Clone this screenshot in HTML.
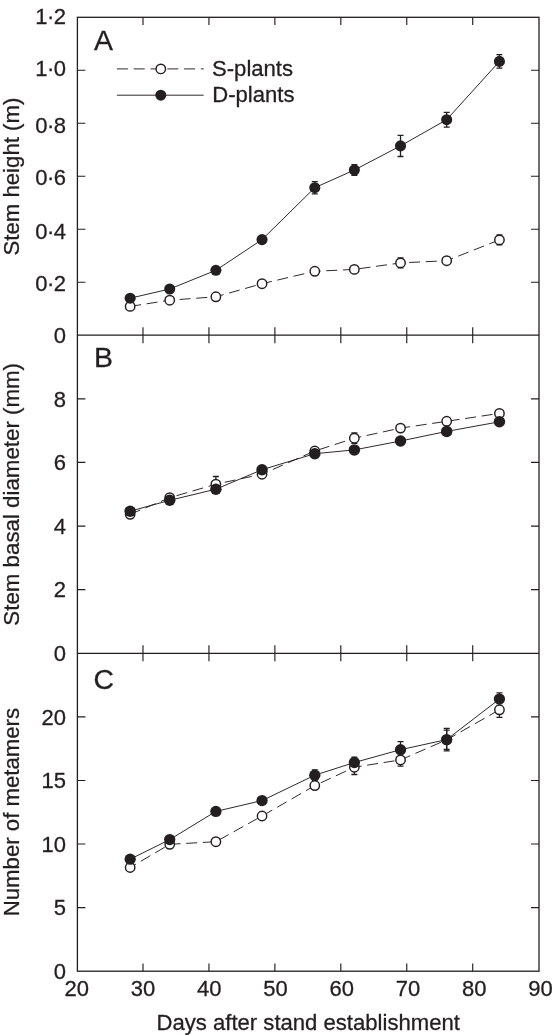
<!DOCTYPE html>
<html><head><meta charset="utf-8"><title>Figure</title>
<style>
html,body{margin:0;padding:0;background:#fff;}
body{width:553px;height:1035px;overflow:hidden;font-family:"Liberation Sans",sans-serif;}
</style></head>
<body>
<svg width="553" height="1035" viewBox="0 0 553 1035" style="display:block;will-change:transform">
<rect x="0" y="0" width="553" height="1035" fill="#ffffff"/>
<g fill="none" stroke="#231f20" stroke-width="1.3" stroke-linecap="butt">
<rect x="77.4" y="17.3" width="461.60" height="953.90"/>
<path d="M77.4 335.2H539.0M77.4 653.3H539.0"/>
<path d="M142.99 17.3v7.6M142.99 327.2v16M142.99 645.3v16M142.99 971.2v-7.6M208.94 17.3v7.6M208.94 327.2v16M208.94 645.3v16M208.94 971.2v-7.6M274.88 17.3v7.6M274.88 327.2v16M274.88 645.3v16M274.88 971.2v-7.6M340.82 17.3v7.6M340.82 327.2v16M340.82 645.3v16M340.82 971.2v-7.6M406.76 17.3v7.6M406.76 327.2v16M406.76 645.3v16M406.76 971.2v-7.6M472.71 17.3v7.6M472.71 327.2v16M472.71 645.3v16M472.71 971.2v-7.6M77.4 282.22h8M539.0 282.22h-8M77.4 229.23h8M539.0 229.23h-8M77.4 176.25h8M539.0 176.25h-8M77.4 123.27h8M539.0 123.27h-8M77.4 70.28h8M539.0 70.28h-8M77.4 589.68h8M539.0 589.68h-8M77.4 526.06h8M539.0 526.06h-8M77.4 462.44h8M539.0 462.44h-8M77.4 398.82h8M539.0 398.82h-8M77.4 907.62h8M539.0 907.62h-8M77.4 844.04h8M539.0 844.04h-8M77.4 780.46h8M539.0 780.46h-8M77.4 716.88h8M539.0 716.88h-8" stroke-width="1.15"/>
</g>
<polyline points="130.15,306.40 169.72,300.20 215.88,296.80 262.04,283.70 314.79,271.30 354.36,269.40 400.52,262.90 446.68,260.70 499.43,239.90" fill="none" stroke="#231f20" stroke-width="0.95" stroke-dasharray="11 5.67" stroke-dashoffset="0"/>
<path d="M400.52 258.00V267.80M397.52 258.00h6M397.52 267.80h6M499.43 235.00V244.80M496.43 235.00h6M496.43 244.80h6" fill="none" stroke="#231f20" stroke-width="1.3"/>
<polyline points="130.15,298.20 169.72,289.00 215.88,270.30 262.04,239.60 314.79,187.70 354.36,170.00 400.52,145.90 446.68,119.70 499.43,61.40" fill="none" stroke="#231f20" stroke-width="0.95"/>
<path d="M314.79 181.60V193.80M311.79 181.60h6M311.79 193.80h6M354.36 164.60V175.40M351.36 164.60h6M351.36 175.40h6M400.52 135.30V156.50M397.52 135.30h6M397.52 156.50h6M446.68 112.30V127.10M443.68 112.30h6M443.68 127.10h6M499.43 54.70V68.10M496.43 54.70h6M496.43 68.10h6" fill="none" stroke="#231f20" stroke-width="1.3"/>
<circle cx="130.15" cy="306.40" r="4.7" fill="#fff" stroke="#231f20" stroke-width="1.45"/>
<circle cx="169.72" cy="300.20" r="4.7" fill="#fff" stroke="#231f20" stroke-width="1.45"/>
<circle cx="215.88" cy="296.80" r="4.7" fill="#fff" stroke="#231f20" stroke-width="1.45"/>
<circle cx="262.04" cy="283.70" r="4.7" fill="#fff" stroke="#231f20" stroke-width="1.45"/>
<circle cx="314.79" cy="271.30" r="4.7" fill="#fff" stroke="#231f20" stroke-width="1.45"/>
<circle cx="354.36" cy="269.40" r="4.7" fill="#fff" stroke="#231f20" stroke-width="1.45"/>
<circle cx="400.52" cy="262.90" r="4.7" fill="#fff" stroke="#231f20" stroke-width="1.45"/>
<circle cx="446.68" cy="260.70" r="4.7" fill="#fff" stroke="#231f20" stroke-width="1.45"/>
<circle cx="499.43" cy="239.90" r="4.7" fill="#fff" stroke="#231f20" stroke-width="1.45"/>
<circle cx="130.15" cy="298.20" r="5.55" fill="#231f20"/>
<circle cx="169.72" cy="289.00" r="5.55" fill="#231f20"/>
<circle cx="215.88" cy="270.30" r="5.55" fill="#231f20"/>
<circle cx="262.04" cy="239.60" r="5.55" fill="#231f20"/>
<circle cx="314.79" cy="187.70" r="5.55" fill="#231f20"/>
<circle cx="354.36" cy="170.00" r="5.55" fill="#231f20"/>
<circle cx="400.52" cy="145.90" r="5.55" fill="#231f20"/>
<circle cx="446.68" cy="119.70" r="5.55" fill="#231f20"/>
<circle cx="499.43" cy="61.40" r="5.55" fill="#231f20"/>
<polyline points="130.15,514.30 169.72,497.70 215.88,484.20 262.04,474.20 314.79,451.00 354.36,438.20 400.52,428.10 446.68,421.30 499.43,413.40" fill="none" stroke="#231f20" stroke-width="0.95" stroke-dasharray="11 5.67" stroke-dashoffset="0"/>
<path d="M215.88 476.50V491.90M212.88 476.50h6M212.88 491.90h6M354.36 433.00V443.40M351.36 433.00h6M351.36 443.40h6" fill="none" stroke="#231f20" stroke-width="1.3"/>
<polyline points="130.15,511.20 169.72,500.30 215.88,489.20 262.04,469.70 314.79,453.70 354.36,449.90 400.52,441.00 446.68,431.40 499.43,421.80" fill="none" stroke="#231f20" stroke-width="0.95"/>
<circle cx="130.15" cy="514.30" r="4.7" fill="#fff" stroke="#231f20" stroke-width="1.45"/>
<circle cx="169.72" cy="497.70" r="4.7" fill="#fff" stroke="#231f20" stroke-width="1.45"/>
<circle cx="215.88" cy="484.20" r="4.7" fill="#fff" stroke="#231f20" stroke-width="1.45"/>
<circle cx="262.04" cy="474.20" r="4.7" fill="#fff" stroke="#231f20" stroke-width="1.45"/>
<circle cx="314.79" cy="451.00" r="4.7" fill="#fff" stroke="#231f20" stroke-width="1.45"/>
<circle cx="354.36" cy="438.20" r="4.7" fill="#fff" stroke="#231f20" stroke-width="1.45"/>
<circle cx="400.52" cy="428.10" r="4.7" fill="#fff" stroke="#231f20" stroke-width="1.45"/>
<circle cx="446.68" cy="421.30" r="4.7" fill="#fff" stroke="#231f20" stroke-width="1.45"/>
<circle cx="499.43" cy="413.40" r="4.7" fill="#fff" stroke="#231f20" stroke-width="1.45"/>
<circle cx="130.15" cy="511.20" r="5.75" fill="#231f20"/>
<circle cx="169.72" cy="500.30" r="5.75" fill="#231f20"/>
<circle cx="215.88" cy="489.20" r="5.75" fill="#231f20"/>
<circle cx="262.04" cy="469.70" r="5.75" fill="#231f20"/>
<circle cx="314.79" cy="453.70" r="5.75" fill="#231f20"/>
<circle cx="354.36" cy="449.90" r="5.75" fill="#231f20"/>
<circle cx="400.52" cy="441.00" r="5.75" fill="#231f20"/>
<circle cx="446.68" cy="431.40" r="5.75" fill="#231f20"/>
<circle cx="499.43" cy="421.80" r="5.75" fill="#231f20"/>
<polyline points="130.15,867.50 169.72,844.30 215.88,841.70 262.04,816.00 314.79,785.60 354.36,767.20 400.52,759.90 446.68,739.80 499.43,709.80" fill="none" stroke="#231f20" stroke-width="0.95" stroke-dasharray="11 5.67" stroke-dashoffset="4.3"/>
<path d="M354.36 759.90V774.50M351.36 759.90h6M351.36 774.50h6M400.52 753.60V766.20M397.52 753.60h6M397.52 766.20h6M446.68 730.20V749.40M443.68 730.20h6M443.68 749.40h6M499.43 702.20V717.40M496.43 702.20h6M496.43 717.40h6" fill="none" stroke="#231f20" stroke-width="1.3"/>
<polyline points="130.15,859.20 169.72,839.60 215.88,811.40 262.04,800.60 314.79,775.20 354.36,762.50 400.52,749.70 446.68,739.60 499.43,699.10" fill="none" stroke="#231f20" stroke-width="0.95"/>
<path d="M314.79 769.90V780.50M311.79 769.90h6M311.79 780.50h6M354.36 757.20V767.80M351.36 757.20h6M351.36 767.80h6M400.52 741.60V757.80M397.52 741.60h6M397.52 757.80h6M446.68 728.30V750.90M443.68 728.30h6M443.68 750.90h6M499.43 692.80V705.40M496.43 692.80h6M496.43 705.40h6" fill="none" stroke="#231f20" stroke-width="1.3"/>
<circle cx="130.15" cy="867.50" r="4.7" fill="#fff" stroke="#231f20" stroke-width="1.45"/>
<circle cx="169.72" cy="844.30" r="4.7" fill="#fff" stroke="#231f20" stroke-width="1.45"/>
<circle cx="215.88" cy="841.70" r="4.7" fill="#fff" stroke="#231f20" stroke-width="1.45"/>
<circle cx="262.04" cy="816.00" r="4.7" fill="#fff" stroke="#231f20" stroke-width="1.45"/>
<circle cx="314.79" cy="785.60" r="4.7" fill="#fff" stroke="#231f20" stroke-width="1.45"/>
<circle cx="354.36" cy="767.20" r="4.7" fill="#fff" stroke="#231f20" stroke-width="1.45"/>
<circle cx="400.52" cy="759.90" r="4.7" fill="#fff" stroke="#231f20" stroke-width="1.45"/>
<circle cx="446.68" cy="739.80" r="4.7" fill="#fff" stroke="#231f20" stroke-width="1.45"/>
<circle cx="499.43" cy="709.80" r="4.7" fill="#fff" stroke="#231f20" stroke-width="1.45"/>
<circle cx="130.15" cy="859.20" r="5.65" fill="#231f20"/>
<circle cx="169.72" cy="839.60" r="5.65" fill="#231f20"/>
<circle cx="215.88" cy="811.40" r="5.65" fill="#231f20"/>
<circle cx="262.04" cy="800.60" r="5.65" fill="#231f20"/>
<circle cx="314.79" cy="775.20" r="5.65" fill="#231f20"/>
<circle cx="354.36" cy="762.50" r="5.65" fill="#231f20"/>
<circle cx="400.52" cy="749.70" r="5.65" fill="#231f20"/>
<circle cx="446.68" cy="739.60" r="5.65" fill="#231f20"/>
<circle cx="499.43" cy="699.10" r="5.65" fill="#231f20"/>
<path d="M116.9 68.9H203.7" fill="none" stroke="#231f20" stroke-width="0.95" stroke-dasharray="11 5.8"/>
<circle cx="160.8" cy="68.9" r="4.7" fill="#fff" stroke="#231f20" stroke-width="1.45"/>
<path d="M116.9 95.2H203.7" fill="none" stroke="#231f20" stroke-width="0.95"/>
<circle cx="160.8" cy="95.2" r="5.5" fill="#231f20"/>
<g font-family="'Liberation Sans', sans-serif" fill="#231f20" font-size="22" stroke="#231f20" stroke-width="0.3" stroke-linejoin="round">
<text x="212" y="76.2" font-size="22.1">S-plants</text>
<text x="212.2" y="102.2" font-size="22.1">D-plants</text>
<text x="94.0" y="49.5" font-size="28.4">A</text>
<text x="94.0" y="367.1" font-size="28.4">B</text>
<text x="93.4" y="688.7" font-size="28.4">C</text>
<text x="66" y="343.10" text-anchor="end">0</text>
<text x="66" y="291.32" text-anchor="end">0<tspan dx="-0.6">·</tspan><tspan dx="-0.6">2</tspan></text>
<text x="66" y="239.03" text-anchor="end">0<tspan dx="-0.6">·</tspan><tspan dx="-0.6">4</tspan></text>
<text x="66" y="184.85" text-anchor="end">0<tspan dx="-0.6">·</tspan><tspan dx="-0.6">6</tspan></text>
<text x="66" y="132.97" text-anchor="end">0<tspan dx="-0.6">·</tspan><tspan dx="-0.6">8</tspan></text>
<text x="66" y="75.98" text-anchor="end">1<tspan dx="-0.6">·</tspan><tspan dx="-0.6">0</tspan></text>
<text x="66" y="24.20" text-anchor="end">1<tspan dx="-0.6">·</tspan><tspan dx="-0.6">2</tspan></text>
<text x="66" y="661.10" text-anchor="end">0</text>
<text x="66" y="597.28" text-anchor="end">2</text>
<text x="66" y="534.46" text-anchor="end">4</text>
<text x="66" y="470.24" text-anchor="end">6</text>
<text x="66" y="407.32" text-anchor="end">8</text>
<text x="66" y="979.30" text-anchor="end">0</text>
<text x="66" y="915.22" text-anchor="end">5</text>
<text x="66" y="852.34" text-anchor="end">10</text>
<text x="66" y="788.26" text-anchor="end">15</text>
<text x="66" y="724.68" text-anchor="end">20</text>
<text x="76.70" y="996.2" text-anchor="middle">20</text>
<text x="142.95" y="996.2" text-anchor="middle">30</text>
<text x="209.21" y="996.2" text-anchor="middle">40</text>
<text x="275.46" y="996.2" text-anchor="middle">50</text>
<text x="341.71" y="996.2" text-anchor="middle">60</text>
<text x="407.96" y="996.2" text-anchor="middle">70</text>
<text x="474.22" y="996.2" text-anchor="middle">80</text>
<text x="540.47" y="996.2" text-anchor="middle">90</text>
<text x="308.2" y="1029.6" text-anchor="middle" font-size="22.1">Days after stand establishment</text>
<text transform="translate(19.2 176.6) rotate(-90)" text-anchor="middle" font-size="22.2">Stem height (m)</text>
<text transform="translate(19.2 494.3) rotate(-90)" text-anchor="middle" font-size="22.3">Stem basal diameter (mm)</text>
<text transform="translate(19.2 812.1) rotate(-90)" text-anchor="middle" font-size="22.2">Number of metamers</text>
</g>
</svg>
</body></html>
